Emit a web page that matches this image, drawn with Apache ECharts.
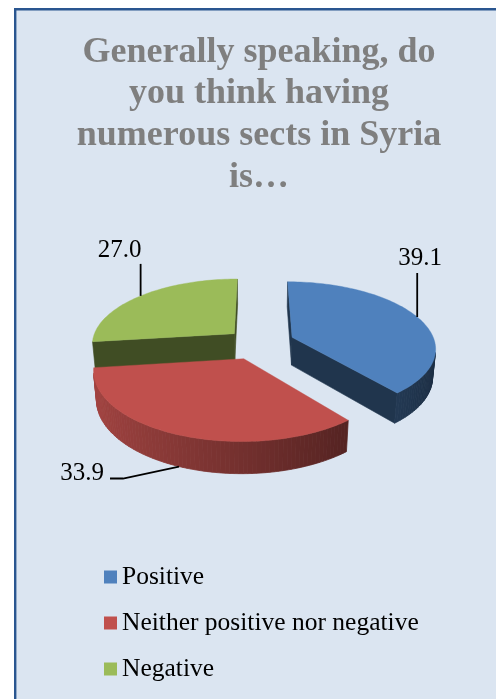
<!DOCTYPE html>
<html>
<head>
<meta charset="utf-8">
<script src="https://cdn.jsdelivr.net/npm/echarts@6/dist/echarts.min.js"></script>
<style>
  html, body { margin: 0; padding: 0; background: #ffffff; }
  #chart { width: 496px; height: 699px; }
</style>
</head>
<body>
<div id="chart"></div>
<script>
// Survey answers (percent)
const categories = ['Positive', 'Neither positive nor negative', 'Negative'];
const values = [39.1, 33.9, 27.0];

// Palette and per-slice explosion (fraction of the radius)
const palette = ['#4f81bd', '#c0504d', '#9bbb59'];
const explode = [0.26, 0.25, 0.22];

// Leader line / label placement relative to the slice's anchor point
const labelLayout = [
  { edge: 'top',    line: [[0, -44]],             text: [3, -46.5],     align: 'center', vAlign: 'bottom' },
  { edge: 'bottom', line: [[-56, 12], [-69, 12]], text: [-75, 6.5],     align: 'right',  vAlign: 'middle' },
  { edge: 'top',    line: [[0, -32]],             text: [-21, -32.5],   align: 'center', vAlign: 'bottom' }
];

// Perspective camera looking down on the pie (units of one radius)
const VIEW = { cx: 257.5, cy: 343, focal: 858, dist: 6.0, tiltDeg: 27.2, thickness: 0.224 };
const sinT = Math.sin(VIEW.tiltDeg * Math.PI / 180);
const cosT = Math.cos(VIEW.tiltDeg * Math.PI / 180);
const CAM = { x: 0, z: -VIEW.dist * cosT };

function project(x, z, h) {
  const depth = VIEW.dist + z * cosT - h * sinT;
  const up = z * sinT + h * cosT;
  return [VIEW.cx + VIEW.focal * x / depth, VIEW.cy - VIEW.focal * up / depth];
}

function shade(hex, k) {
  const n = parseInt(hex.slice(1), 16);
  const r = Math.round(((n >> 16) & 255) * k);
  const g = Math.round(((n >> 8) & 255) * k);
  const b = Math.round((n & 255) * k);
  return 'rgb(' + r + ',' + g + ',' + b + ')';
}

function facesCamera(px, pz, nx, nz) {
  return (CAM.x - px) * nx + (CAM.z - pz) * nz > 0;
}

const total = values.reduce((a, b) => a + b, 0);
const before = values.map((v, i) => values.slice(0, i).reduce((a, b) => a + b, 0));

const SERIF = 'Liberation Serif';
const LABEL_FONT = '25px "Liberation Serif"';

function renderSlice(params, api) {
  const v = api.value(0), b = api.value(1), tot = api.value(2), k = api.value(3);
  const TAU = Math.PI * 2;
  const a0 = b / tot * TAU, a1 = (b + v) / tot * TAU, am = (a0 + a1) / 2;
  const ox = explode[k] * Math.sin(am), oz = explode[k] * Math.cos(am);
  const H = VIEW.thickness;
  const color = palette[k];

  const n = Math.max(12, Math.ceil((a1 - a0) / (Math.PI / 120)));
  const angs = [];
  for (let i = 0; i <= n; i++) angs.push(a0 + (a1 - a0) * i / n);
  const topArc = angs.map(t => project(ox + Math.sin(t), oz + Math.cos(t), 0));
  const botArc = angs.map(t => project(ox + Math.sin(t), oz + Math.cos(t), -H));
  const apexT = project(ox, oz, 0), apexB = project(ox, oz, -H);

  const children = [];
  const wallColor = shade(color, 0.41);

  // radial wall at the start angle (outward normal a0 - 90deg)
  const n0 = a0 - Math.PI / 2;
  if (facesCamera(ox + 0.5 * Math.sin(a0), oz + 0.5 * Math.cos(a0), Math.sin(n0), Math.cos(n0))) {
    children.push({ type: 'polygon', shape: { points: [apexT, topArc[0], botArc[0], apexB] },
      style: { fill: wallColor, stroke: wallColor, lineWidth: 0.6 } });
  }
  // radial wall at the end angle (outward normal a1 + 90deg)
  const n1 = a1 + Math.PI / 2;
  if (facesCamera(ox + 0.5 * Math.sin(a1), oz + 0.5 * Math.cos(a1), Math.sin(n1), Math.cos(n1))) {
    children.push({ type: 'polygon', shape: { points: [apexT, topArc[n], botArc[n], apexB] },
      style: { fill: wallColor, stroke: wallColor, lineWidth: 0.6 } });
  }
  // curved outer wall, shaded by the direction it faces
  for (let i = 0; i < n; i++) {
    const t = (angs[i] + angs[i + 1]) / 2;
    if (!facesCamera(ox + Math.sin(t), oz + Math.cos(t), Math.sin(t), Math.cos(t))) continue;
    const c = shade(color, Math.min(0.9, 0.6 - 0.25 * Math.sin(t)));
    children.push({ type: 'polygon', shape: { points: [topArc[i], topArc[i + 1], botArc[i + 1], botArc[i]] },
      style: { fill: c, stroke: c, lineWidth: 0.8 } });
  }
  // top face
  children.push({ type: 'polygon', shape: { points: [apexT].concat(topArc) },
    style: { fill: color, stroke: color, lineWidth: 0.4 } });

  // leader line and value label
  const lay = labelLayout[k];
  const anchor = project(ox + Math.sin(am), oz + Math.cos(am), lay.edge === 'top' ? 0 : -H);
  const pts = [anchor].concat(lay.line.map(d => [anchor[0] + d[0], anchor[1] + d[1]]));
  children.push({ type: 'polyline', shape: { points: pts },
    style: { stroke: '#000000', lineWidth: 1.8, fill: null } });
  children.push({ type: 'text', style: {
    text: v.toFixed(1), x: anchor[0] + lay.text[0], y: anchor[1] + lay.text[1],
    align: lay.align, verticalAlign: lay.vAlign, font: LABEL_FONT, fill: '#000000' } });

  return { type: 'group', children: children };
}

// draw farther slices first
const depthOf = values.map((v, i) => {
  const am = (before[i] + v / 2) / total * Math.PI * 2;
  return explode[i] * Math.cos(am);
});
const rank = depthOf.map(d => depthOf.filter(o => o > d).length);

const series = categories.map((name, i) => ({
  type: 'custom',
  name: name,
  coordinateSystem: 'none',
  z: 2 + rank[i],
  itemStyle: { color: palette[i] },
  renderItem: renderSlice,
  data: [[values[i], before[i], total, i]]
}));

const chart = echarts.init(document.getElementById('chart'), null, { renderer: 'canvas' });
chart.setOption({
  animation: false,
  backgroundColor: '#ffffff',
  graphic: [{
    type: 'rect', z: -10, silent: true,
    shape: { x: 15.2, y: 9.3, width: 520, height: 720 },
    style: { fill: '#dbe5f1', stroke: '#2a5690', lineWidth: 2.4 }
  }],
  title: {
    text: 'Generally speaking, do\nyou think having\nnumerous sects in Syria\nis…',
    left: 259, top: 31.5, padding: 0, textAlign: 'center',
    textStyle: {
      fontFamily: SERIF,
      fontWeight: 'bold', fontSize: 36, lineHeight: 41.7, color: '#7f7f7f'
    }
  },
  legend: {
    data: categories,
    orient: 'vertical',
    left: 104, top: 564,
    icon: 'rect', itemWidth: 13, itemHeight: 13, itemGap: 20,
    selectedMode: false,
    padding: 0,
    textStyle: {
      fontFamily: SERIF,
      fontSize: 25.5, lineHeight: 26, color: '#000000'
    }
  },
  series: series
});
</script>
</body>
</html>
